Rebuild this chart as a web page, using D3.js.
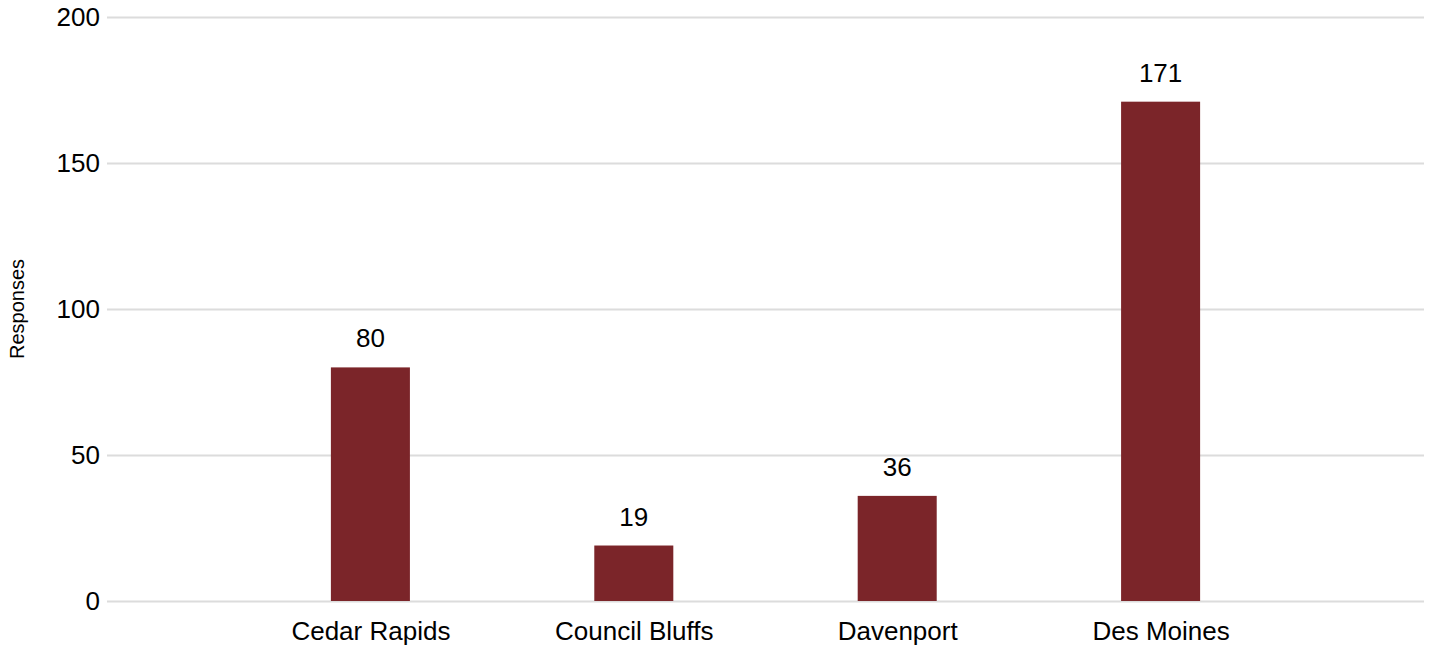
<!DOCTYPE html>
<html>
<head>
<meta charset="utf-8">
<script src="https://cdn.jsdelivr.net/npm/d3@7"></script>
<style>
  body { margin: 0; background: #fff; }
  text { font-family: "Liberation Sans", Arial, sans-serif; fill: #000; }
</style>
</head>
<body>
<div id="chart"></div>
<script>
var categories = ['Cedar Rapids', 'Council Bluffs', 'Davenport', 'Des Moines'];
var responses = [80, 19, 36, 171];
var yTicks = [0, 50, 100, 150, 200];

var width = 1434, height = 651;
var margin = {top: 17, right: 10, bottom: 50, left: 107};

var svg = d3.select('#chart').append('svg')
  .attr('width', width)
  .attr('height', height);

var x = d3.scalePoint()
  .domain(categories)
  .range([margin.left, width - margin.right])
  .padding(1);

var y = d3.scaleLinear()
  .domain([0, 200])
  .range([height - margin.bottom, margin.top]);

var barW = x.step() * 0.3;

// gridlines + y labels
var yAxis = d3.axisLeft(y)
  .tickValues(yTicks)
  .tickSize(-(width - margin.right - margin.left))
  .tickPadding(7);

var gy = svg.append('g')
  .attr('transform', 'translate(' + margin.left + ',0)')
  .call(yAxis);
gy.select('.domain').remove();
gy.selectAll('line').attr('stroke', '#dcdcdc').attr('stroke-width', 2);
gy.selectAll('text')
  .style('font-size', '26px')
  .attr('fill', '#000');

// y title
svg.append('text')
  .attr('transform', 'translate(24,' + ((margin.top + height - margin.bottom) / 2) + ') rotate(-90)')
  .attr('text-anchor', 'middle')
  .style('font-size', '20px')
  .text('Responses');

// bars
var data = categories.map(function(c, i) { return {cat: c, val: responses[i]}; });

svg.append('g')
  .selectAll('rect')
  .data(data)
  .enter()
  .append('rect')
  .attr('x', function(d) { return x(d.cat) - barW / 2; })
  .attr('y', function(d) { return y(d.val); })
  .attr('width', barW)
  .attr('height', function(d) { return y(0) - y(d.val); })
  .attr('fill', '#7b2529');

// value labels
svg.append('g')
  .selectAll('text')
  .data(data)
  .enter()
  .append('text')
  .attr('x', function(d) { return x(d.cat); })
  .attr('y', function(d) { return y(d.val) - 20; })
  .attr('text-anchor', 'middle')
  .style('font-size', '26px')
  .text(function(d) { return d.val; });

// x axis labels
var xAxis = d3.axisBottom(x).tickSize(0).tickPadding(21);
var gx = svg.append('g')
  .attr('transform', 'translate(0,' + y(0) + ')')
  .call(xAxis);
gx.select('.domain').remove();
gx.selectAll('text')
  .style('font-size', '26px')
  .attr('fill', '#000');
</script>
</body>
</html>
